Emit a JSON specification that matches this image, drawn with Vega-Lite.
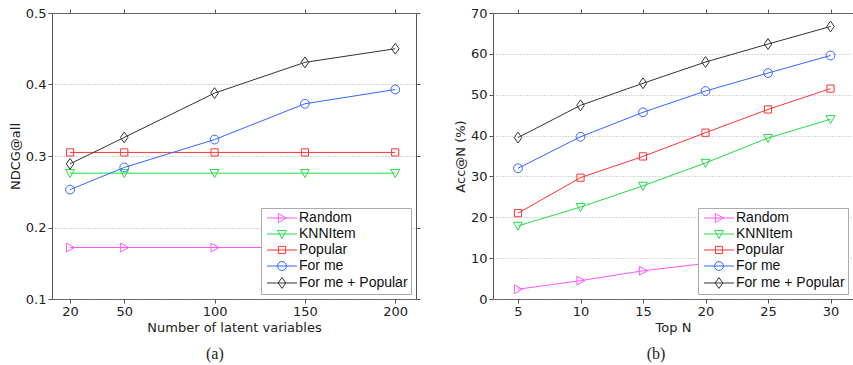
{
  "$schema": "https://vega.github.io/schema/vega-lite/v6.json",
  "background": "white",
  "padding": {"left": 8, "top": 6, "right": 0, "bottom": 0},
  "spacing": 32,
  "datasets": {
    "a": [
      {"m": "Random", "x": 20, "y": 0.172}, {"m": "Random", "x": 50, "y": 0.172}, {"m": "Random", "x": 100, "y": 0.172}, {"m": "Random", "x": 150, "y": 0.172}, {"m": "Random", "x": 200, "y": 0.172},
      {"m": "KNNItem", "x": 20, "y": 0.276}, {"m": "KNNItem", "x": 50, "y": 0.276}, {"m": "KNNItem", "x": 100, "y": 0.276}, {"m": "KNNItem", "x": 150, "y": 0.276}, {"m": "KNNItem", "x": 200, "y": 0.276},
      {"m": "Popular", "x": 20, "y": 0.305}, {"m": "Popular", "x": 50, "y": 0.305}, {"m": "Popular", "x": 100, "y": 0.305}, {"m": "Popular", "x": 150, "y": 0.305}, {"m": "Popular", "x": 200, "y": 0.305},
      {"m": "For me", "x": 20, "y": 0.253}, {"m": "For me", "x": 50, "y": 0.284}, {"m": "For me", "x": 100, "y": 0.323}, {"m": "For me", "x": 150, "y": 0.373}, {"m": "For me", "x": 200, "y": 0.393},
      {"m": "For me + Popular", "x": 20, "y": 0.289}, {"m": "For me + Popular", "x": 50, "y": 0.326}, {"m": "For me + Popular", "x": 100, "y": 0.388}, {"m": "For me + Popular", "x": 150, "y": 0.431}, {"m": "For me + Popular", "x": 200, "y": 0.450}
    ],
    "b": [
      {"m": "Random", "x": 5, "y": 2.4}, {"m": "Random", "x": 10, "y": 4.5}, {"m": "Random", "x": 15, "y": 6.9}, {"m": "Random", "x": 20, "y": 8.7}, {"m": "Random", "x": 25, "y": 10.6}, {"m": "Random", "x": 30, "y": 12.5},
      {"m": "KNNItem", "x": 5, "y": 17.9}, {"m": "KNNItem", "x": 10, "y": 22.5}, {"m": "KNNItem", "x": 15, "y": 27.7}, {"m": "KNNItem", "x": 20, "y": 33.3}, {"m": "KNNItem", "x": 25, "y": 39.4}, {"m": "KNNItem", "x": 30, "y": 44.0},
      {"m": "Popular", "x": 5, "y": 21.0}, {"m": "Popular", "x": 10, "y": 29.7}, {"m": "Popular", "x": 15, "y": 34.9}, {"m": "Popular", "x": 20, "y": 40.7}, {"m": "Popular", "x": 25, "y": 46.4}, {"m": "Popular", "x": 30, "y": 51.5},
      {"m": "For me", "x": 5, "y": 32.0}, {"m": "For me", "x": 10, "y": 39.7}, {"m": "For me", "x": 15, "y": 45.7}, {"m": "For me", "x": 20, "y": 50.9}, {"m": "For me", "x": 25, "y": 55.3}, {"m": "For me", "x": 30, "y": 59.6},
      {"m": "For me + Popular", "x": 5, "y": 39.5}, {"m": "For me + Popular", "x": 10, "y": 47.4}, {"m": "For me + Popular", "x": 15, "y": 52.8}, {"m": "For me + Popular", "x": 20, "y": 58.0}, {"m": "For me + Popular", "x": 25, "y": 62.4}, {"m": "For me + Popular", "x": 30, "y": 66.7}
    ]
  },
  "config": {
    "font": "DejaVu Sans",
    "view": {"stroke": "#555", "strokeWidth": 1},
    "axis": {
      "labelFont": "DejaVu Sans", "labelFontSize": 13, "labelColor": "#222",
      "titleFont": "DejaVu Sans", "titleFontSize": 13, "titleFontWeight": "normal", "titleColor": "#222",
      "domain": false, "tickColor": "#555", "tickSize": 4, "labelPadding": 2,
      "gridColor": "#999", "gridDash": [1, 2], "gridWidth": 0.8
    },
    "legend": {
      "orient": "bottom-right", "offset": 5, "fillColor": "white", "strokeColor": "#aaa",
      "padding": 3, "labelFont": "Liberation Sans", "labelFontSize": 14, "labelColor": "#111",
      "symbolSize": 64, "symbolStrokeWidth": 1, "symbolOpacity": 1, "symbolOffset": 11, "labelOffset": 10, "rowPadding": 2
    },
    "title": {"font": "Liberation Serif", "fontSize": 16, "fontWeight": "normal", "color": "#222", "orient": "bottom", "frame": "bounds", "anchor": "middle", "offset": 12}
  },
  "hconcat": [
    {
      "width": 364, "height": 286,
      "title": "(a)",
      "data": {"name": "a"},
      "layer": [
        {
          "mark": {"type": "line", "strokeWidth": 1},
          "encoding": {
            "x": {"field": "x", "type": "quantitative", "scale": {"domain": [10, 211.5], "nice": false}, "axis": {"values": [20, 50, 100, 150, 200], "title": "Number of latent variables", "titlePadding": 3, "grid": false}},
            "y": {"field": "y", "type": "quantitative", "scale": {"domain": [0.1, 0.5], "nice": false, "zero": false}, "axis": {"values": [0.1, 0.2, 0.3, 0.4, 0.5], "format": ".1f", "title": "NDCG@all", "titlePadding": 3, "grid": true}},
            "color": {"field": "m", "type": "nominal", "scale": {"domain": ["Random", "KNNItem", "Popular", "For me", "For me + Popular"], "range": ["#ff55ff", "#22dd44", "#ff3333", "#3366ff", "#333333"]}, "legend": null}
          }
        },
        {
          "mark": {"type": "point", "filled": false, "size": 64, "strokeWidth": 1, "opacity": 1},
          "encoding": {
            "x": {"field": "x", "type": "quantitative", "axis": null},
            "y": {"field": "y", "type": "quantitative", "axis": null},
            "color": {"field": "m", "type": "nominal", "legend": null},
            "shape": {"field": "m", "type": "nominal", "legend": null, "scale": {"domain": ["Random", "KNNItem", "Popular", "For me", "For me + Popular"], "range": ["M-0.9,-1.1L1.1,0L-0.9,1.1Z", "M-1.1,-0.9L1.1,-0.9L0,1.1Z", "M-0.9,-0.9H0.9V0.9H-0.9Z", "M-1.1,0A1.1,1.1,0,1,1,1.1,0A1.1,1.1,0,1,1,-1.1,0Z", "M0,-1.35L0.95,0L0,1.35L-0.95,0Z"]}}
          }
        },
        {
          "mark": {"type": "line", "opacity": 0},
          "encoding": {
            "x": {"field": "x", "type": "quantitative", "axis": {"orient": "top", "values": [20, 50, 100, 150, 200], "labels": false, "title": null, "grid": false}},
            "y": {"field": "y", "type": "quantitative", "axis": {"orient": "right", "values": [0.1, 0.2, 0.3, 0.4, 0.5], "labels": false, "title": null, "grid": false}}
          }
        },
        {
          "mark": {"type": "point", "filled": false, "size": 64, "strokeWidth": 1, "opacity": 0},
          "encoding": {
            "x": {"field": "x", "type": "quantitative", "axis": null},
            "y": {"field": "y", "type": "quantitative", "axis": null},
            "stroke": {"field": "m", "type": "nominal", "scale": {"domain": ["Random", "KNNItem", "Popular", "For me", "For me + Popular"], "range": ["#ff55ff", "#22dd44", "#ff3333", "#3366ff", "#333333"]}, "legend": {"title": null}},
            "shape": {"field": "m", "type": "nominal", "legend": {"title": null}, "scale": {"domain": ["Random", "KNNItem", "Popular", "For me", "For me + Popular"], "range": ["M-3.75,0H3.75M-0.9,-1.1L1.1,0L-0.9,1.1Z", "M-3.75,0H3.75M-1.1,-0.9L1.1,-0.9L0,1.1Z", "M-3.75,0H3.75M-0.9,-0.9H0.9V0.9H-0.9Z", "M-3.75,0H3.75M-1.1,0A1.1,1.1,0,1,1,1.1,0A1.1,1.1,0,1,1,-1.1,0Z", "M-3.75,0H3.75M0,-1.35L0.95,0L0,1.35L-0.95,0Z"]}}
          }
        }
      ],
      "resolve": {"axis": {"x": "independent", "y": "independent"}, "scale": {"shape": "independent", "stroke": "independent"}}
    },
    {
      "width": 360, "height": 286,
      "title": "(b)",
      "data": {"name": "b"},
      "layer": [
        {
          "mark": {"type": "line", "strokeWidth": 1},
          "encoding": {
            "x": {"field": "x", "type": "quantitative", "scale": {"domain": [3, 31.8], "nice": false}, "axis": {"values": [5, 10, 15, 20, 25, 30], "title": "Top N", "titlePadding": 3, "grid": false}},
            "y": {"field": "y", "type": "quantitative", "scale": {"domain": [0, 70], "nice": false}, "axis": {"values": [0, 10, 20, 30, 40, 50, 60, 70], "title": "Acc@N (%)", "titlePadding": 3, "grid": true}},
            "color": {"field": "m", "type": "nominal", "scale": {"domain": ["Random", "KNNItem", "Popular", "For me", "For me + Popular"], "range": ["#ff55ff", "#22dd44", "#ff3333", "#3366ff", "#333333"]}, "legend": null}
          }
        },
        {
          "mark": {"type": "point", "filled": false, "size": 64, "strokeWidth": 1, "opacity": 1},
          "encoding": {
            "x": {"field": "x", "type": "quantitative", "axis": null},
            "y": {"field": "y", "type": "quantitative", "axis": null},
            "color": {"field": "m", "type": "nominal", "legend": null},
            "shape": {"field": "m", "type": "nominal", "legend": null, "scale": {"domain": ["Random", "KNNItem", "Popular", "For me", "For me + Popular"], "range": ["M-0.9,-1.1L1.1,0L-0.9,1.1Z", "M-1.1,-0.9L1.1,-0.9L0,1.1Z", "M-0.9,-0.9H0.9V0.9H-0.9Z", "M-1.1,0A1.1,1.1,0,1,1,1.1,0A1.1,1.1,0,1,1,-1.1,0Z", "M0,-1.35L0.95,0L0,1.35L-0.95,0Z"]}}
          }
        },
        {
          "mark": {"type": "line", "opacity": 0},
          "encoding": {
            "x": {"field": "x", "type": "quantitative", "axis": {"orient": "top", "values": [5, 10, 15, 20, 25, 30], "labels": false, "title": null, "grid": false}},
            "y": {"field": "y", "type": "quantitative", "axis": {"orient": "right", "values": [0, 10, 20, 30, 40, 50, 60, 70], "labels": false, "title": null, "grid": false}}
          }
        },
        {
          "mark": {"type": "point", "filled": false, "size": 64, "strokeWidth": 1, "opacity": 0},
          "encoding": {
            "x": {"field": "x", "type": "quantitative", "axis": null},
            "y": {"field": "y", "type": "quantitative", "axis": null},
            "stroke": {"field": "m", "type": "nominal", "scale": {"domain": ["Random", "KNNItem", "Popular", "For me", "For me + Popular"], "range": ["#ff55ff", "#22dd44", "#ff3333", "#3366ff", "#333333"]}, "legend": {"title": null}},
            "shape": {"field": "m", "type": "nominal", "legend": {"title": null}, "scale": {"domain": ["Random", "KNNItem", "Popular", "For me", "For me + Popular"], "range": ["M-3.75,0H3.75M-0.9,-1.1L1.1,0L-0.9,1.1Z", "M-3.75,0H3.75M-1.1,-0.9L1.1,-0.9L0,1.1Z", "M-3.75,0H3.75M-0.9,-0.9H0.9V0.9H-0.9Z", "M-3.75,0H3.75M-1.1,0A1.1,1.1,0,1,1,1.1,0A1.1,1.1,0,1,1,-1.1,0Z", "M-3.75,0H3.75M0,-1.35L0.95,0L0,1.35L-0.95,0Z"]}}
          }
        }
      ],
      "resolve": {"axis": {"x": "independent", "y": "independent"}, "scale": {"shape": "independent", "stroke": "independent"}}
    }
  ]
}
